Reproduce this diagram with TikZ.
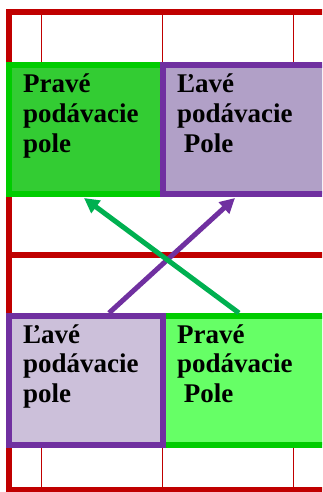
\documentclass[tikz,border=0pt]{standalone}
\usepackage{fontspec}
\setmainfont{Liberation Serif}
\usetikzlibrary{arrows.meta,calc}
\definecolor{frred}{HTML}{C00000}
\definecolor{bxgreen}{HTML}{00CC00}
\definecolor{fillgA}{HTML}{33CC33}
\definecolor{fillgB}{HTML}{66FF66}
\definecolor{bxpurple}{HTML}{7030A0}
\definecolor{fillpA}{HTML}{B1A0C7}
\definecolor{fillpB}{HTML}{CCC0DA}
\definecolor{arrgreen}{HTML}{00B050}
\tikzset{
  frame/.style={draw=frred,line width=6pt},
  thin/.style={draw=frred,line width=1pt},
  fieldbox/.style={rectangle,line width=6pt,inner sep=0pt,minimum width=#1},
  fieldtxt/.style={anchor=base west,inner sep=0pt,font=\fontsize{27}{29.5}\selectfont\bfseries},
  swaparrow/.style={line width=5pt,-{Triangle[length=15pt,width=15pt]}},
}
\newcommand{\threelines}[3]{\vtop{\baselineskip=29.5pt\hbox{#1}\hbox{#2}\hbox{#3}}}
\begin{document}
\begin{tikzpicture}[x=1pt,y=-1pt]
\useasboundingbox (0,0) rectangle (322,492);
\clip (0,0) rectangle (322,492);
% red frame
\draw[frame] (330,12) -- (9,12) -- (9,490) -- (330,490);
\draw[frame] (9,255) -- (330,255);
% thin lines
\foreach \x in {41,162,293}{
  \draw[thin] (\x,15) -- (\x,62);
  \draw[thin] (\x,448) -- (\x,488);
}
% top row
\node[fieldbox=154pt,minimum height=129pt,draw=bxgreen,fill=fillgA] (tl) at (86,129.5) {};
\node[fieldbox=167pt,minimum height=129pt,draw=bxpurple,fill=fillpA] (tr) at (246.5,129.5) {};
% bottom row
\node[fieldbox=167pt,minimum height=129pt,draw=bxgreen,fill=fillgB] (br) at (246.5,380.5) {};
\node[fieldbox=154pt,minimum height=129pt,draw=bxpurple,fill=fillpB] (bl) at (86,380.5) {};
% texts
\node[fieldtxt] (tltext) at (23,93) {\threelines{Pravé}{podávacie}{pole}};
\node[fieldtxt] (trtext) at (177,93) {\threelines{Ľavé}{podávacie}{\ Pole}};
\node[fieldtxt] (bltext) at (23,343) {\threelines{Ľavé}{podávacie}{pole}};
\node[fieldtxt] (brtext) at (177,343) {\threelines{Pravé}{podávacie}{\ Pole}};
% arrows
\coordinate (ps) at ($(bl.north west)+(103,0)$);
\coordinate (pe) at ($(tr.south west)+(75,1)$);
\coordinate (gs) at ($(br.north west)+(79,0)$);
\coordinate (ge) at ($(tl.south west)+(78,1)$);
\draw[swaparrow,draw=bxpurple,fill=bxpurple] (ps) -- (pe);
\draw[swaparrow,draw=arrgreen,fill=arrgreen] (gs) -- (ge);
\end{tikzpicture}
\end{document}
